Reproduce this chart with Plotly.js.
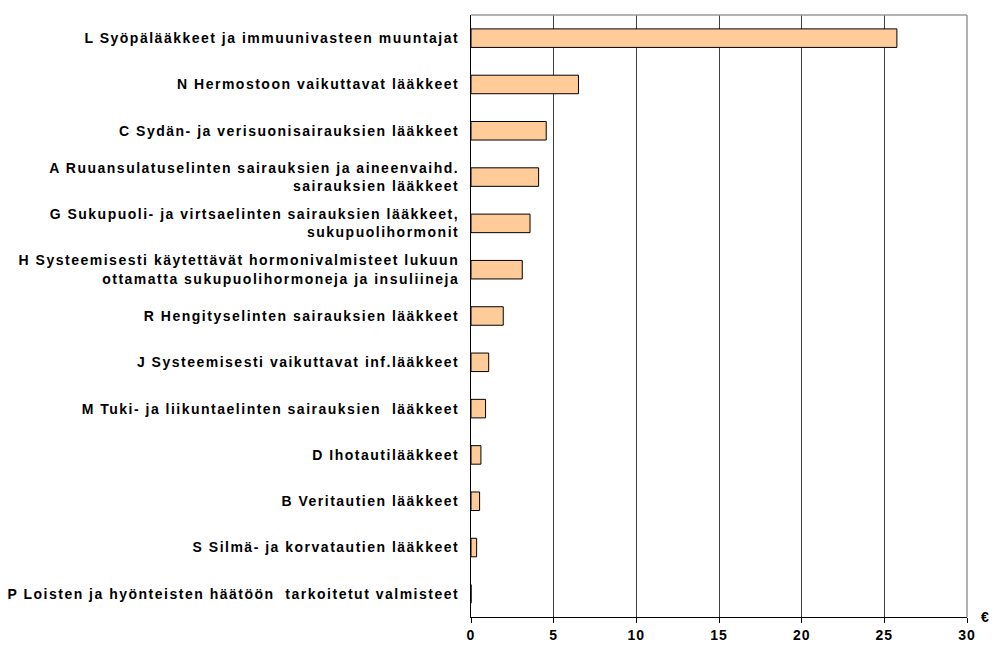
<!DOCTYPE html>
<html>
<head>
<meta charset="utf-8">
<script src="https://cdn.plot.ly/plotly-3.0.1.min.js"></script>
<style>
html,body{margin:0;padding:0;background:#fff;}
#chart{width:995px;height:652px;}
.ytick text{letter-spacing:1.5px;}
.xtick text{letter-spacing:1px;}
</style>
</head>
<body>
<div id="chart"></div>
<script>
const categories = [
  "L Syöpälääkkeet ja immuunivasteen muuntajat",
  "N Hermostoon vaikuttavat lääkkeet",
  "C Sydän- ja verisuonisairauksien lääkkeet",
  "A Ruuansulatuselinten sairauksien ja aineenvaihd.<br>sairauksien lääkkeet",
  "G Sukupuoli- ja virtsaelinten sairauksien lääkkeet,<br>sukupuolihormonit",
  "H Systeemisesti käytettävät hormonivalmisteet lukuun<br>ottamatta sukupuolihormoneja ja insuliineja",
  "R Hengityselinten sairauksien lääkkeet",
  "J Systeemisesti vaikuttavat inf.lääkkeet",
  "M Tuki- ja liikuntaelinten sairauksien  lääkkeet",
  "D Ihotautilääkkeet",
  "B Veritautien lääkkeet",
  "S Silmä- ja korvatautien lääkkeet",
  "P Loisten ja hyönteisten häätöön  tarkoitetut valmisteet"
];
const values = [25.76, 6.5, 4.55, 4.09, 3.57, 3.1, 1.95, 1.07, 0.88, 0.6, 0.52, 0.34, 0];
const xTicks = [0, 5, 10, 15, 20, 25, 30];
const unitLabel = "€";

const trace = {
  type: 'bar',
  orientation: 'h',
  y: categories,
  x: values,
  marker: {color: '#FFCC99', line: {color: '#000000', width: 1}},
  hoverinfo: 'x+y'
};

const layout = {
  width: 995, height: 652,
  margin: {l: 471, r: 28, t: 15, b: 35},
  paper_bgcolor: '#ffffff', plot_bgcolor: '#ffffff',
  showlegend: false,
  bargap: 0.6,
  font: {family: 'Liberation Sans, Arial, sans-serif', size: 14, color: '#000'},
  xaxis: {
    range: [0, 30], tickvals: xTicks, ticktext: xTicks.map(String),
    showgrid: true, gridcolor: '#404040', gridwidth: 1,
    zeroline: false, showline: true, linecolor: '#000', linewidth: 1,
    ticks: 'outside', ticklen: 5, tickcolor: '#000',
    tickfont: {family: 'Liberation Sans, Arial, sans-serif', size: 14, weight: 'bold', color: '#000'},
    fixedrange: true
  },
  yaxis: {
    autorange: 'reversed', showgrid: false, zeroline: false,
    showline: true, linecolor: '#000', linewidth: 1,
    ticks: '', ticklabelstandoff: 8,
    tickfont: {family: 'Liberation Sans, Arial, sans-serif', size: 14, weight: 'bold', color: '#000'},
    fixedrange: true
  },
  shapes: [
    {type: 'line', xref: 'paper', yref: 'paper', x0: 0, x1: 1, y0: 1, y1: 1, line: {color: '#999999', width: 1.5}},
    {type: 'line', xref: 'paper', yref: 'paper', x0: 1, x1: 1, y0: 0, y1: 1, line: {color: '#999999', width: 1.5}}
  ],
  annotations: [
    {text: unitLabel, xref: 'paper', yref: 'paper', x: 1.037, y: 0, xanchor: 'center', yanchor: 'middle',
     showarrow: false, font: {family: 'Liberation Sans, Arial, sans-serif', size: 14, weight: 'bold', color: '#000'}}
  ]
};

Plotly.newPlot('chart', [trace], layout, {displayModeBar: false, staticPlot: true});
</script>
</body>
</html>
